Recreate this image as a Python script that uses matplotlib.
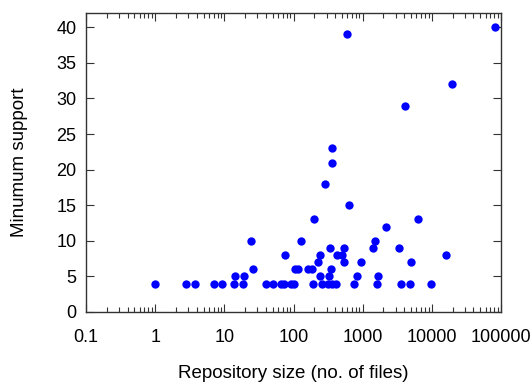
import numpy as np
import matplotlib.pyplot as plt
from matplotlib.ticker import LogLocator, FixedLocator, NullLocator

# ---------------------------
# Data
# ---------------------------
# repository size (no. of files) and minimum support, one entry per point
repo_size = [
    1, 2.8, 3.8, 7.2, 9.2, 13.8, 18.4, 40, 50, 66, 73, 92, 101,
    191, 257, 314, 359, 410, 746, 1604, 3530, 4810, 9680,      # support 4
    14.4, 19.4, 243, 325, 816, 1675,                           # support 5
    25.6, 105, 116, 163, 183, 347,                             # support 6
    227, 541, 942, 5024,                                       # support 7
    75, 243, 420, 506, 15930,                                  # support 8
    336, 541, 1419, 3336,                                      # support 9
    24.2, 127, 1500,                                           # support 10
    2140, 197, 6280, 638, 289, 363, 363, 4074, 19450, 591, 82200,
]
min_support = [
    4, 4, 4, 4, 4, 4, 4, 4, 4, 4, 4, 4, 4,
    4, 4, 4, 4, 4, 4, 4, 4, 4, 4,
    5, 5, 5, 5, 5, 5,
    6, 6, 6, 6, 6, 6,
    7, 7, 7, 7,
    8, 8, 8, 8, 8,
    9, 9, 9, 9,
    10, 10, 10,
    12, 13, 13, 15, 18, 21, 23, 29, 32, 39, 40,
]

x_ticks = [0.1, 1, 10, 100, 1000, 10000, 100000]
x_tick_labels = ['0.1', '1', '10', '100', '1000', '10000', '100000']
y_ticks = [0, 5, 10, 15, 20, 25, 30, 35, 40]

# ---------------------------
# Plot
# ---------------------------
plt.rcParams['font.family'] = ['Liberation Sans', 'DejaVu Sans']
plt.rcParams['font.size'] = 13

fig = plt.figure(figsize=(5.32, 3.83), dpi=100)
ax = fig.add_axes([0.1617, 0.1854, 0.9417 - 0.1617, 0.966 - 0.1854])

ax.plot(repo_size, min_support, 'o', color='#0000ff', markersize=6,
        markeredgewidth=0, linestyle='none')

ax.set_xscale('log')
ax.set_xlim(0.1, 100000)
ax.set_ylim(0, 42)

ax.xaxis.set_major_locator(FixedLocator(x_ticks))
ax.set_xticklabels(x_tick_labels)
ax.xaxis.set_minor_locator(LogLocator(base=10, subs=np.arange(2, 10), numticks=20))
ax.set_yticks(y_ticks)
ax.yaxis.set_minor_locator(NullLocator())

ax.tick_params(which='both', direction='in', top=True, right=True, color='#333333')
ax.tick_params(which='major', length=6, width=0.8)
ax.tick_params(which='minor', length=3.5, width=0.8)
ax.tick_params(axis='x', which='both', pad=12)
ax.tick_params(axis='y', which='both', pad=7)
ax.xaxis.set_minor_formatter(plt.NullFormatter())

for s in ax.spines.values():
    s.set_color('#333333')
    s.set_linewidth(1.0)

ax.set_xlabel('Repository size (no. of files)', fontsize=13.5, labelpad=14)
ax.set_ylabel('Minumum support', fontsize=13.5, labelpad=20)

fig.savefig('out.png', dpi=100)
